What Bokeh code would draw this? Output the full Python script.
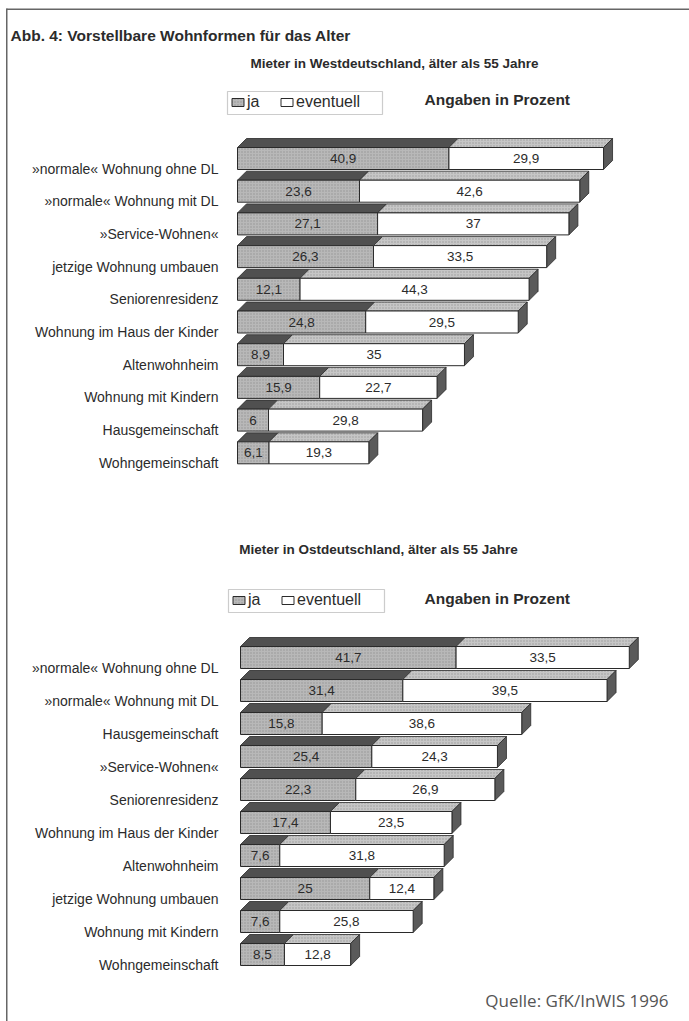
from bokeh.plotting import figure
from bokeh.models import (Range1d, Label, BoxAnnotation, Legend, LegendItem,
                          ColumnDataSource)
from bokeh.core.properties import value
from bokeh.embed import file_html
from bokeh.resources import INLINE

# ---------------- data ----------------
west_categories = ["»normale« Wohnung ohne DL", "»normale« Wohnung mit DL",
                   "»Service-Wohnen«", "jetzige Wohnung umbauen",
                   "Seniorenresidenz", "Wohnung im Haus der Kinder",
                   "Altenwohnheim", "Wohnung mit Kindern",
                   "Hausgemeinschaft", "Wohngemeinschaft"]
west_ja = [40.9, 23.6, 27.1, 26.3, 12.1, 24.8, 8.9, 15.9, 6, 6.1]
west_eventuell = [29.9, 42.6, 37, 33.5, 44.3, 29.5, 35, 22.7, 29.8, 19.3]

east_categories = ["»normale« Wohnung ohne DL", "»normale« Wohnung mit DL",
                   "Hausgemeinschaft", "»Service-Wohnen«",
                   "Seniorenresidenz", "Wohnung im Haus der Kinder",
                   "Altenwohnheim", "jetzige Wohnung umbauen",
                   "Wohnung mit Kindern", "Wohngemeinschaft"]
east_ja = [41.7, 31.4, 15.8, 25.4, 22.3, 17.4, 7.6, 25, 7.6, 8.5]
east_eventuell = [33.5, 39.5, 38.6, 24.3, 26.9, 23.5, 31.8, 12.4, 25.8, 12.8]

series_names = ["ja", "eventuell"]
main_title = "Abb. 4: Vorstellbare Wohnformen für das Alter"
west_title = "Mieter in Westdeutschland, älter als 55 Jahre"
east_title = "Mieter in Ostdeutschland, älter als 55 Jahre"
unit_note = "Angaben in Prozent"
source_note = "Quelle: GfK/InWIS 1996"

# ---------------- layout constants (pixels) ----------------
W, H = 689, 1021
PX_PER_PCT = 5.17
DEPTH_PX = 9
BAR_PX = 22

FONT = "Liberation Sans"
C_JA = "#b8b8b8"
C_JA_TOP = "#505050"
C_EV = "#ffffff"
C_EV_TOP = "#c6c6c6"
C_SIDE = "#5a5a5a"
C_LINE = "#2a2a2a"
C_TEXT = "#2b2b2b"
TEXTURE = dict(hatch_pattern="dot", hatch_color="#7a7a7a", hatch_scale=3,
               hatch_weight=0.6, hatch_alpha=0.6)

p = figure(width=W, height=H, output_backend="svg", toolbar_location=None,
           x_axis_location=None, y_axis_location=None, min_border=0,
           x_range=Range1d(-237 / PX_PER_PCT, (W - 237) / PX_PER_PCT),
           y_range=Range1d((H - 158) / 32.7, -158 / 32.7))
p.outline_line_color = None
p.grid.visible = False
p.background_fill_color = "white"
p.border_fill_color = "white"

p.extra_x_ranges = {"east": Range1d(-240 / PX_PER_PCT, (W - 240) / PX_PER_PCT)}
p.extra_y_ranges = {"east": Range1d((H - 657) / 33.0, -657 / 33.0)}


def draw_panel(cats, ja, ev, xr, yr, row_px, label_dx_px, label_dy_px,
               legend_xy, box):
    n = len(cats)
    rows = list(range(n))
    h = BAR_PX / row_px
    dx = DEPTH_PX / PX_PER_PCT
    dy = DEPTH_PX / row_px
    tot = [a + b for a, b in zip(ja, ev)]
    kw = dict(x_range_name=xr, y_range_name=yr)

    xs_ja_top, ys_ja_top, xs_ev_top, ys_ev_top, xs_side, ys_side = [], [], [], [], [], []
    for r, a, t in zip(rows, ja, tot):
        yt = r - h / 2
        yb = r + h / 2
        xs_ja_top.append([0, a, a + dx, dx])
        ys_ja_top.append([yt, yt, yt - dy, yt - dy])
        xs_ev_top.append([a, t, t + dx, a + dx])
        ys_ev_top.append([yt, yt, yt - dy, yt - dy])
        xs_side.append([t, t + dx, t + dx, t])
        ys_side.append([yt, yt - dy, yb - dy, yb])
    p.patches(xs_ja_top, ys_ja_top, fill_color=C_JA_TOP, line_color=C_LINE,
              line_width=0.8, **kw)
    p.patches(xs_ev_top, ys_ev_top, fill_color=C_EV_TOP, line_color=C_LINE,
              line_width=0.8, **TEXTURE, **kw)
    p.patches(xs_side, ys_side, fill_color=C_SIDE, line_color=C_LINE,
              line_width=0.8, **kw)

    src = ColumnDataSource(dict(
        row=rows, ja=ja, tot=tot, cat=cats,
        ja_mid=[a / 2 for a in ja],
        ev_mid=[a + b / 2 for a, b in zip(ja, ev)],
        ja_txt=[f"{v:g}".replace(".", ",") for v in ja],
        ev_txt=[f"{v:g}".replace(".", ",") for v in ev],
        zero=[0] * n))
    r_ja = p.hbar(y="row", left="zero", right="ja", height=h, source=src,
                  fill_color=C_JA, line_color=C_LINE, line_width=1.0,
                  **TEXTURE, **kw)
    r_ev = p.hbar(y="row", left="ja", right="tot", height=h, source=src,
                  fill_color=C_EV, line_color=C_LINE, line_width=1.0, **kw)

    p.text(x="ja_mid", y="row", text="ja_txt", source=src,
           text_align="center", text_baseline="middle",
           text_font=value(FONT), text_font_size="13.5px", text_color=C_TEXT, **kw)
    p.text(x="ev_mid", y="row", text="ev_txt", source=src,
           text_align="center", text_baseline="middle",
           text_font=value(FONT), text_font_size="13.5px", text_color=C_TEXT, **kw)
    p.text(x="zero", y="row", text="cat", source=src,
           x_offset=label_dx_px, y_offset=label_dy_px,
           text_align="right", text_baseline="middle",
           text_font=value(FONT), text_font_size="14px", text_color=C_TEXT, **kw)

    bl, br, bt, bb = box
    p.add_layout(BoxAnnotation(left=bl, right=br, top=H - bt, bottom=H - bb,
                               left_units="screen", right_units="screen",
                               top_units="screen", bottom_units="screen",
                               fill_color="white", fill_alpha=1.0,
                               line_color="#555555", line_width=1.2))
    leg = Legend(items=[LegendItem(label=series_names[0], renderers=[r_ja]),
                        LegendItem(label=series_names[1], renderers=[r_ev])],
                 location=legend_xy, orientation="horizontal",
                 glyph_width=15, glyph_height=10, label_height=10,
                 label_standoff=2, spacing=12, padding=0, margin=0,
                 border_line_color=None, background_fill_alpha=0,
                 label_text_font=FONT, label_text_font_size="16px",
                 label_text_color=C_TEXT)
    p.add_layout(leg)


draw_panel(west_categories, west_ja, west_eventuell, "default", "default",
           32.7, -19, 10, (230, H - 111), (227, 382, 91, 114))
draw_panel(east_categories, east_ja, east_eventuell, "east", "east",
           33.0, -22, 10, (231, H - 609), (228, 384, 589, 612))


def label(x, y, text, size, bold=False, font=FONT, color=C_TEXT, align="left"):
    p.add_layout(Label(x=x, y=H - y, x_units="screen", y_units="screen",
                       text=text, text_font=font, text_font_size=size,
                       text_font_style="bold" if bold else "normal",
                       text_color=color, text_align=align,
                       text_baseline="middle"))


label(10, 35, main_title, "15.5px", bold=True)
label(394, 63, west_title, "13.5px", bold=True, align="center")
label(424, 99, unit_note, "15.5px", bold=True)
label(378, 549, east_title, "13.5px", bold=True, align="center")
label(424, 598, unit_note, "15.5px", bold=True)
label(668, 1000, source_note, "17px", font="Open Sans", color="#555555",
      align="right")

# page frame lines (top and left)
p.add_layout(BoxAnnotation(left=6, right=W + 2, top=H - 8, bottom=H - 9.5,
                           left_units="screen", right_units="screen",
                           top_units="screen", bottom_units="screen",
                           fill_color="#666666", fill_alpha=1.0, line_color=None))
p.add_layout(BoxAnnotation(left=5.5, right=7, top=H - 8, bottom=-2,
                           left_units="screen", right_units="screen",
                           top_units="screen", bottom_units="screen",
                           fill_color="#666666", fill_alpha=1.0, line_color=None))

open("out.html", "w").write(file_html(p, INLINE))
